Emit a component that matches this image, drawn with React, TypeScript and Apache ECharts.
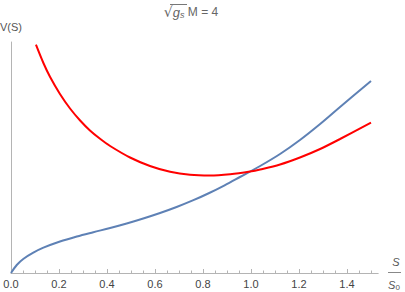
import React, { useEffect, useRef } from "react";
import * as echarts from "echarts";

// S/S0 values and potential V(S) (arbitrary units)
const blueX = [0, 0.024, 0.051, 0.093, 0.135, 0.204, 0.274, 0.343, 0.413, 0.482, 0.551, 0.621, 0.69, 0.76, 0.826, 0.89, 0.954, 1.038, 1.121, 1.204, 1.288, 1.371, 1.5];
const blueV = [0, 0.08, 0.14, 0.203, 0.253, 0.315, 0.365, 0.408, 0.45, 0.495, 0.545, 0.6, 0.66, 0.728, 0.8, 0.877, 0.96, 1.07, 1.19, 1.33, 1.49, 1.66, 1.92];
const redX = [0.104, 0.135, 0.163, 0.204, 0.246, 0.288, 0.329, 0.371, 0.413, 0.496, 0.579, 0.663, 0.746, 0.829, 0.913, 0.996, 1.038, 1.121, 1.204, 1.288, 1.371, 1.5];
const redV = [2.283, 2.1, 1.96, 1.79, 1.645, 1.525, 1.425, 1.342, 1.27, 1.155, 1.07, 1.012, 0.982, 0.975, 0.988, 1.015, 1.035, 1.085, 1.155, 1.24, 1.34, 1.503];
const majorTicks = [0, 0.2, 0.4, 0.6, 0.8, 1.0, 1.2, 1.4];
const minorTicks = [0.05, 0.1, 0.15, 0.25, 0.3, 0.35, 0.45, 0.5, 0.55, 0.65, 0.7, 0.75, 0.85, 0.9, 0.95, 1.05, 1.1, 1.15, 1.25, 1.3, 1.35, 1.45, 1.5];

const FONT = "'Liberation Sans', Arial, sans-serif";

export default function App() {
  const ref = useRef<HTMLDivElement>(null);
  useEffect(() => {
    if (!ref.current) return;
    const chart = echarts.init(ref.current, null, { renderer: "svg" });
    const axisColor = "#b4b4b4";
    chart.setOption({
      animation: false,
      backgroundColor: "#ffffff",
      grid: { left: 11, top: 42, right: 26.8, bottom: 19, containLabel: false },
      xAxis: [
        {
          type: "value",
          min: 0,
          max: 1.53,
          axisLine: { show: true, onZero: false, lineStyle: { color: axisColor, width: 1 } },
          axisTick: { show: true, inside: true, length: 4, customValues: majorTicks, lineStyle: { color: axisColor } },
          axisLabel: {
            show: true,
            customValues: majorTicks,
            formatter: (v: number) => v.toFixed(1),
            color: "#444",
            fontSize: 11,
            fontFamily: FONT,
            margin: 5,
          },
          splitLine: { show: false },
        },
        {
          type: "value",
          min: 0,
          max: 1.53,
          position: "bottom",
          axisLine: { show: false, onZero: false },
          axisTick: { show: true, inside: true, length: 2.5, customValues: minorTicks, lineStyle: { color: axisColor } },
          axisLabel: { show: false },
          splitLine: { show: false },
        },
      ],
      yAxis: {
        type: "value",
        min: 0,
        max: 2.31,
        axisLine: { show: true, onZero: false, lineStyle: { color: axisColor, width: 1 } },
        axisTick: { show: false },
        axisLabel: { show: false },
        splitLine: { show: false },
      },
      series: [
        {
          type: "line",
          xAxisIndex: 0,
          data: blueX.map((x, i) => [x, blueV[i]]),
          smooth: 0.35,
          showSymbol: false,
          lineStyle: { color: "#5E81B5", width: 2 },
        },
        {
          type: "line",
          xAxisIndex: 0,
          data: redX.map((x, i) => [x, redV[i]]),
          smooth: 0.35,
          showSymbol: false,
          lineStyle: { color: "#ff0000", width: 2 },
        },
      ],
      graphic: [
        {
          type: "text",
          left: 0,
          top: 21,
          style: { text: "V(S)", fill: "#555", font: `11px ${FONT}` },
        },
        {
          type: "text",
          x: 191,
          y: 12,
          style: {
            text: "{r|√}{g|g}{s|s}{n| M = 4}",
            align: "center",
            verticalAlign: "middle",
            fill: "#666",
            rich: {
              r: { fontSize: 14, fontFamily: "'DejaVu Sans', sans-serif", fill: "#666" },
              g: { fontSize: 13, fontStyle: "italic", fontFamily: FONT, fill: "#666" },
              s: { fontSize: 9, fontStyle: "italic", fontFamily: FONT, fill: "#666", padding: [6, 0, 0, 0] },
              n: { fontSize: 12, fontFamily: FONT, fill: "#666" },
            },
          },
        },
        {
          type: "line",
          shape: { x1: 170, y1: 4.5, x2: 187, y2: 4.5 },
          style: { stroke: "#777", lineWidth: 1 },
        },
        {
          type: "text",
          x: 396,
          y: 262,
          style: { text: "S", align: "center", verticalAlign: "middle", fill: "#555", font: `italic 11px ${FONT}` },
        },
        {
          type: "line",
          shape: { x1: 388, y1: 272.5, x2: 401, y2: 272.5 },
          style: { stroke: "#888", lineWidth: 1 },
        },
        {
          type: "text",
          x: 394,
          y: 285,
          style: {
            text: "{i|S}{b|0}",
            align: "center",
            verticalAlign: "middle",
            rich: {
              i: { fontSize: 11, fontStyle: "italic", fontFamily: FONT, fill: "#555" },
              b: { fontSize: 8, fontFamily: FONT, fill: "#555", padding: [5, 0, 0, 0] },
            },
          },
        },
      ],
    });
    return () => chart.dispose();
  }, []);
  return (
    <div
      ref={ref}
      style={{ position: "absolute", left: 0, top: 0, width: 405, height: 292 }}
    />
  );
}
